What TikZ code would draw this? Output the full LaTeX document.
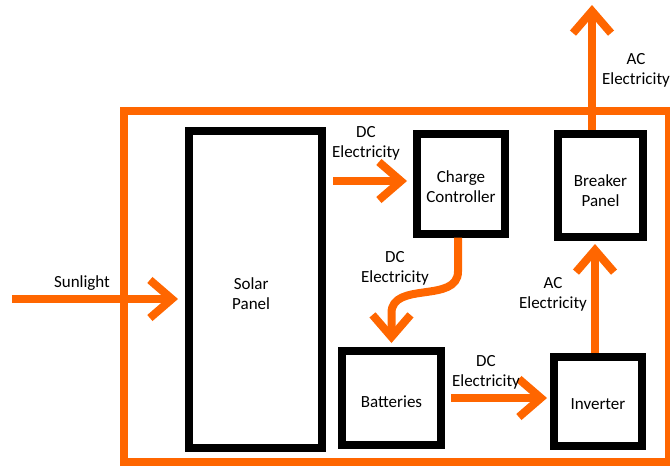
\documentclass[tikz,border=0pt]{standalone}
\usepackage{fontspec}
\setmainfont{Carlito}
\usetikzlibrary{arrows.meta}
\definecolor{orng}{RGB}{255,102,0}
\begin{document}
\begin{tikzpicture}[x=1pt,y=-1pt,
  box/.style={draw=black,line width=8pt,rectangle,inner sep=0pt},
  lbl/.style={align=center,inner sep=0pt,font=\fontsize{17}{20}\selectfont},
  oarrow/.style={draw=orng,line width=8pt,-{Straight Barb[sharp,length=22pt,width=38pt]}},
  obox/.style={draw=orng,line width=8pt}]
\useasboundingbox (0,0) rectangle (670,466);
\draw[obox] (123.5,111) rectangle (669,462);
\node[box,minimum width=133pt,minimum height=317pt] (solar) at (255,289) {};
\node[box,minimum width=88pt,minimum height=100pt] (cc) at (461,183.5) {};
\node[box,minimum width=85pt,minimum height=103pt] (brk) at (600.5,185.5) {};
\node[box,minimum width=99pt,minimum height=94pt] (bat) at (391.5,398) {};
\node[box,minimum width=88pt,minimum height=89pt] (inv) at (598,401.5) {};
\node[lbl,anchor=west] (solart) at (232,294) {Solar\\Panel};
\node[lbl] (cct) at ([yshift=-3.5pt]cc.center) {Charge\\Controller};
\node[lbl] (brkt) at ([yshift=-5pt]brk.center) {Breaker\\Panel};
\node[lbl] (batt) at ([yshift=-3.5pt]bat.center) {Batteries};
\node[lbl] (invt) at ([yshift=-3pt]inv.center) {Inverter};
\coordinate (sun) at (12,299);
\coordinate (out) at (592,5);
% arrows
\draw[oarrow,shorten >=6.5pt] (sun) -- (sun -| solar.west);
\draw[oarrow,shorten <=7.5pt,shorten >=6pt] ([yshift=2.5pt]solar.east |- cc.west) -- ([yshift=2.5pt]cc.west);
\draw[oarrow,shorten >=4pt] ([xshift=-3pt]cc.south) -- ++(0,34) .. controls +(0,32) and +(0,-32) .. ([yshift=34pt]bat.north) -- (bat.north);
\draw[oarrow,shorten <=6pt,shorten >=3pt] (bat.east) -- (bat.east -| inv.west);
\draw[oarrow,shorten >=3pt] ([xshift=-3pt]inv.north) -- ([xshift=-3pt]inv.north |- brk.south);
\draw[oarrow] (brk.north -| out) -- (out);
% labels
\node[lbl] (l1) at (82,283) {Sunlight};
\node[lbl] (l2) at (366,143.5) {DC\\Electricity};
\node[lbl] (l3) at (395,268) {DC\\Electricity};
\node[lbl] (l4) at (486,372.5) {DC\\Electricity};
\node[lbl] (l5) at (553,294) {AC\\Electricity};
\node[lbl] (l6) at (636,70) {AC\\Electricity};
\end{tikzpicture}
\end{document}
